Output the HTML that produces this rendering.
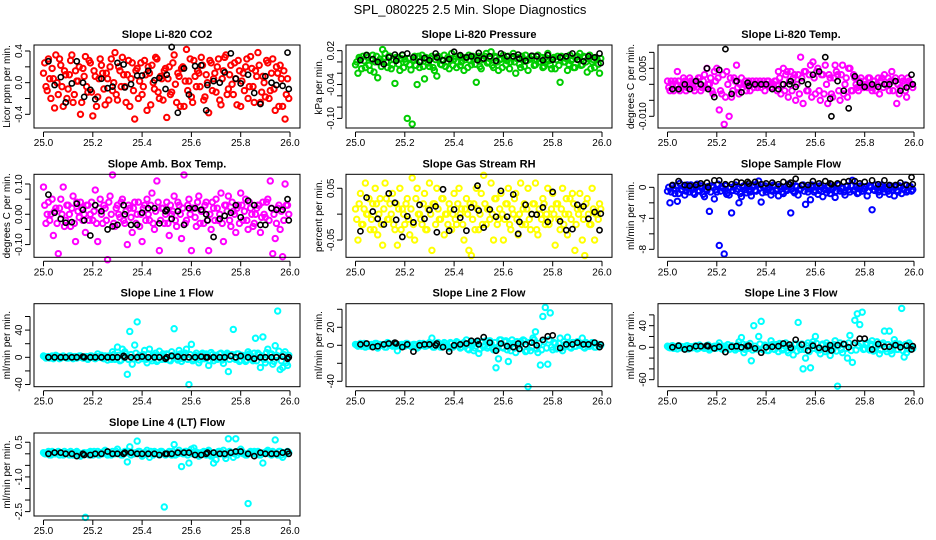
<!DOCTYPE html>
<html><head><meta charset="utf-8">
<style>
html,body{margin:0;padding:0;background:#fff;}
svg{display:block;font-family:"Liberation Sans",sans-serif;}
</style></head>
<body>
<svg id="chart" width="936" height="540" viewBox="0 0 936 540">
<text x="470" y="14" text-anchor="middle" font-size="13">SPL_080225  2.5 Min. Slope Diagnostics</text>
</svg>
<script>
const timesColored=[25.00,25.01,25.02,25.03,25.04,25.05,25.06,25.07,25.08,25.09,25.10,25.11,25.12,25.13,25.14,25.15,25.16,25.17,25.18,25.19,25.20,25.21,25.22,25.23,25.24,25.25,25.26,25.27,25.28,25.29,25.30,25.31,25.32,25.33,25.34,25.35,25.36,25.37,25.38,25.39,25.40,25.41,25.42,25.43,25.44,25.45,25.46,25.47,25.48,25.49,25.50,25.51,25.52,25.53,25.54,25.55,25.56,25.57,25.58,25.59,25.60,25.61,25.62,25.63,25.64,25.65,25.66,25.67,25.68,25.69,25.70,25.71,25.72,25.73,25.74,25.75,25.76,25.77,25.78,25.79,25.80,25.81,25.82,25.83,25.84,25.85,25.86,25.87,25.88,25.89,25.90,25.91,25.92,25.93,25.94,25.95,25.96,25.97,25.98,25.99];
const timesColored2=[25.005,25.015,25.025,25.035,25.045,25.055,25.065,25.075,25.085,25.095,25.105,25.115,25.125,25.135,25.145,25.155,25.165,25.175,25.185,25.195,25.205,25.215,25.225,25.235,25.245,25.255,25.265,25.275,25.285,25.295,25.305,25.315,25.325,25.335,25.345,25.355,25.365,25.375,25.385,25.395,25.405,25.415,25.425,25.435,25.445,25.455,25.465,25.475,25.485,25.495,25.505,25.515,25.525,25.535,25.545,25.555,25.565,25.575,25.585,25.595,25.605,25.615,25.625,25.635,25.645,25.655,25.665,25.675,25.685,25.695,25.705,25.715,25.725,25.735,25.745,25.755,25.765,25.775,25.785,25.795,25.805,25.815,25.825,25.835,25.845,25.855,25.865,25.875,25.885,25.895,25.905,25.915,25.925,25.935,25.945,25.955,25.965,25.975,25.985,25.995];
const timesBlack=[25.02,25.045,25.07,25.09,25.115,25.135,25.16,25.165,25.19,25.21,25.235,25.26,25.28,25.30,25.325,25.33,25.355,25.38,25.40,25.425,25.45,25.47,25.495,25.50,25.52,25.545,25.57,25.59,25.615,25.64,25.66,25.665,25.69,25.715,25.735,25.76,25.78,25.80,25.83,25.855,25.88,25.90,25.925,25.945,25.97,25.99,25.995];
const xTicks=[25.0,25.2,25.4,25.6,25.8,26.0];
const xTickLabels=["25.0","25.2","25.4","25.6","25.8","26.0"];

const co2Colored=[0.12,-0.05,0.30,-0.20,0.05,0.35,-0.15,0.22,-0.30,0.10,-0.08,0.28,-0.25,0.15,0.02,-0.40,0.18,0.33,-0.12,0.25,-0.42,0.08,-0.18,0.30,0.12,-0.28,0.05,0.20,-0.10,0.38,-0.22,0.15,0.32,-0.05,0.10,-0.30,0.25,-0.46,0.18,0.02,-0.15,0.28,-0.35,0.12,0.22,-0.08,0.30,-0.20,0.05,0.15,-0.44,0.20,-0.12,0.35,-0.25,0.08,0.18,-0.30,0.42,0.02,-0.18,0.28,-0.05,0.12,0.32,-0.22,0.10,-0.38,0.25,0.05,-0.12,0.30,-0.28,0.15,0.35,-0.08,0.22,-0.15,0.05,0.28,-0.30,0.12,0.20,-0.20,0.33,-0.05,0.15,0.38,-0.25,0.08,-0.18,0.25,-0.10,0.30,-0.35,0.12,0.22,-0.30,-0.46,0.05];
const co2Colored2=[0.25,-0.10,0.05,0.18,-0.32,0.00,0.30,-0.05,0.15,-0.20,0.10,0.35,-0.15,0.02,0.20,-0.25,0.08,-0.05,0.28,-0.12,0.15,-0.30,0.05,0.22,-0.08,0.12,-0.22,0.30,0.00,-0.15,0.20,-0.05,0.10,-0.25,0.28,0.05,-0.10,0.15,-0.20,0.25,-0.05,0.10,0.20,-0.28,0.00,0.32,-0.12,0.08,-0.22,0.18,0.05,-0.15,0.25,-0.02,0.12,-0.30,0.20,0.02,-0.10,0.30,-0.25,0.08,0.15,-0.05,0.22,-0.18,0.00,0.28,-0.10,0.12,0.20,-0.22,0.05,0.32,-0.15,0.10,-0.02,0.25,-0.28,0.15,0.02,-0.10,0.30,-0.05,0.18,-0.25,0.08,0.22,-0.12,0.00,0.28,-0.20,0.12,-0.08,0.20,-0.30,0.05,0.15,-0.15,-0.20];
const co2Black=[0.27,-0.03,0.07,-0.25,-0.01,0.27,0.0,-0.18,-0.09,-0.21,0.05,-0.07,-0.05,0.25,0.23,-0.06,-0.02,0.09,0.09,0.15,0.03,0.06,-0.08,0.10,0.45,-0.38,0.18,-0.15,0.21,0.22,-0.35,-0.03,0.02,0.00,0.13,0.37,0.05,-0.01,0.10,-0.13,-0.27,0.08,0.00,-0.03,-0.04,0.38,-0.08];
const co2Ticks=[-0.4,-0.2,0,0.2,0.4];
const co2TickLabels=["-0.4","","0.0","","0.4"];

const presColored=[-0.005,-0.02,0.005,0.01,-0.01,0.008,-0.015,0.012,0.0,-0.028,0.005,0.022,0.015,-0.01,0.01,-0.005,-0.038,0.008,-0.015,0.012,0.005,-0.10,-0.005,-0.11,0.01,-0.04,-0.01,0.012,-0.03,0.005,-0.008,0.01,-0.015,-0.025,0.008,-0.005,0.012,0.0,-0.012,0.015,0.005,-0.01,0.01,0.0,-0.015,0.008,0.012,-0.005,0.005,-0.036,0.01,-0.012,0.005,0.015,0.0,0.018,-0.01,0.008,-0.015,0.005,0.012,-0.005,0.01,0.0,0.015,-0.02,0.008,-0.01,0.005,0.012,-0.015,0.005,0.01,-0.005,0.012,0.0,-0.01,0.008,0.015,-0.005,0.005,-0.012,0.01,-0.036,0.008,0.0,-0.015,0.012,0.005,-0.01,0.01,0.015,-0.005,0.008,-0.018,0.012,0.0,-0.01,0.005,-0.02];
const presColored2=[0.0,0.008,-0.012,0.002,0.012,-0.006,0.004,-0.018,0.01,0.0,-0.008,0.006,0.0,0.01,-0.012,0.004,0.008,-0.004,0.006,-0.01,0.0,0.006,-0.014,0.004,-0.006,0.01,0.002,-0.008,0.008,-0.002,0.006,-0.01,0.004,0.01,-0.004,0.002,-0.008,0.008,0.004,-0.006,0.01,0.0,-0.006,0.008,0.004,-0.01,0.002,0.01,-0.004,0.006,-0.008,0.004,0.01,-0.002,0.006,-0.006,0.01,0.0,0.004,-0.01,0.006,0.002,-0.012,0.008,0.0,0.006,-0.004,0.01,-0.008,0.002,0.006,0.01,-0.006,0.004,0.0,0.008,-0.008,0.004,0.002,-0.012,0.008,0.004,-0.006,0.01,0.0,0.006,-0.004,0.002,-0.01,0.008,0.004,-0.006,0.01,0.0,0.006,-0.012,0.004,0.008,-0.004,0.006];
const presBlack=[0.003,0.012,0.005,0.0,-0.004,0.008,0.013,0.002,0.013,0.015,0.008,0.0,0.007,0.003,0.015,0.008,0.003,0.005,0.018,0.012,0.008,0.01,0.003,0.016,0.006,0.01,0.002,0.015,0.01,0.01,0.013,0.006,0.002,0.011,0.01,0.003,0.012,0.004,0.008,0.01,0.015,0.004,0.001,0.01,0.008,0.015,-0.002];
const presTicks=[0.02,0.0,-0.02,-0.04,-0.06,-0.08,-0.10];
const presTickLabels=["0.02","","","-0.04","","","-0.10"];

const tempColored=[0.001,-0.002,0.0,0.001,0.004,-0.002,0.0,0.001,-0.001,0.002,0.0,-0.002,0.001,0.002,-0.001,0.003,0.005,0.0,-0.002,0.004,0.005,-0.008,-0.003,-0.0125,0.004,-0.010,-0.004,0.002,0.006,-0.003,0.002,0.0,-0.002,0.001,0.0,-0.001,0.001,0.0,-0.001,0.001,0.0,0.001,-0.001,0.0,0.001,0.004,-0.003,0.005,0.003,-0.004,0.004,0.002,-0.005,0.003,0.0085,-0.006,0.004,-0.002,0.006,0.007,-0.003,0.005,-0.005,0.003,0.006,-0.006,0.002,-0.004,0.006,0.003,-0.005,0.006,0.0,-0.004,0.005,-0.002,0.002,-0.001,0.001,0.0,0.001,-0.001,0.002,-0.002,0.001,0.0,-0.003,0.002,0.003,0.0,-0.002,0.004,0.001,-0.006,-0.003,0.002,0.0,-0.004,0.001,0.0];
const tempColored2=[-0.001,0.001,-0.002,0.0,0.001,-0.001,0.002,-0.002,0.0,0.001,-0.001,0.0,0.002,-0.002,0.001,-0.001,0.0,0.002,-0.003,0.001,0.002,-0.002,0.003,-0.004,0.0,0.002,-0.002,0.001,-0.001,0.0,-0.001,0.001,0.0,-0.002,0.001,0.0,-0.001,0.001,0.0,-0.002,0.001,0.0,-0.001,0.001,-0.002,0.002,0.0,-0.002,0.004,0.001,-0.002,0.003,0.0,-0.003,0.002,0.004,-0.002,0.003,-0.004,0.002,0.004,-0.002,0.003,-0.003,0.0,0.003,-0.003,0.002,0.004,-0.002,0.003,-0.003,0.002,0.005,-0.002,0.003,0.0,-0.002,0.002,-0.001,0.0,0.002,-0.001,0.001,-0.002,0.002,0.001,-0.001,0.0,0.002,0.001,-0.002,0.002,0.0,-0.001,0.001,-0.002,0.002,0.0,-0.001];
const tempBlack=[-0.0015,-0.0015,0.0,-0.0015,0.001,0.0,0.005,-0.0015,-0.004,0.0045,0.011,-0.003,0.001,-0.0025,0.0005,-0.0005,0.0,0.0,0.0,-0.0015,-0.0015,0.0,0.0,0.001,-0.0008,0.001,0.0,0.003,0.004,0.0085,-0.0045,-0.01,0.001,-0.002,-0.0075,0.0025,0.0005,-0.0008,0.0,-0.0008,0.0,0.0,0.001,-0.002,-0.001,0.003,0.0];
const tempTicks=[0.010,0.005,0.0,-0.005,-0.010];
const tempTickLabels=["","0.005","","","-0.010"];

const ambColored=[0.09,-0.03,0.04,0.0,-0.07,0.02,-0.13,0.05,0.09,-0.02,0.03,-0.04,0.06,-0.09,0.01,0.04,-0.02,-0.06,0.03,0.0,-0.02,0.08,-0.09,0.05,-0.03,0.02,-0.15,0.06,0.13,-0.04,0.03,-0.01,0.05,-0.03,-0.10,0.02,-0.06,0.04,0.0,-0.04,-0.09,0.03,0.05,-0.02,0.07,-0.05,0.11,-0.12,0.02,-0.03,0.04,-0.07,0.0,0.06,-0.04,0.03,-0.08,0.13,-0.02,0.05,-0.12,0.02,-0.04,0.06,0.01,-0.03,0.04,-0.12,-0.05,0.02,0.05,-0.02,0.07,-0.09,0.03,0.06,-0.04,0.01,-0.06,0.03,0.07,-0.02,0.05,-0.05,0.02,-0.04,0.0,0.03,-0.06,0.04,-0.01,0.05,0.11,-0.13,-0.08,0.02,-0.05,-0.14,0.10,0.03];
const ambColored2=[0.03,0.0,-0.02,0.05,0.01,-0.03,0.02,0.0,-0.04,0.03,0.0,0.02,-0.03,0.04,-0.01,0.02,0.0,0.03,-0.02,0.04,0.01,-0.03,0.02,0.0,0.03,-0.02,0.04,0.0,-0.03,0.02,0.0,0.04,-0.02,0.01,0.03,-0.01,0.02,-0.03,0.04,0.0,0.02,-0.02,0.0,0.03,-0.03,0.01,0.04,-0.02,0.02,0.0,-0.03,0.03,0.01,-0.02,0.04,0.0,0.02,-0.03,0.03,0.0,0.02,-0.01,0.04,-0.03,0.01,0.03,-0.02,0.0,0.04,-0.02,0.02,0.0,-0.03,0.03,0.01,-0.02,0.04,0.0,0.02,-0.03,0.03,0.01,-0.02,0.04,0.0,-0.03,0.02,0.03,-0.01,0.0,0.04,-0.02,0.02,0.0,-0.03,0.03,0.01,-0.02,0.03,0.0];
const ambBlack=[0.065,0.005,-0.015,-0.028,-0.026,0.035,0.015,-0.02,-0.07,0.03,0.01,-0.05,-0.04,-0.035,0.03,0.0,-0.035,-0.035,0.005,0.02,0.02,-0.03,0.01,0.015,-0.015,0.01,-0.035,0.02,0.02,0.015,0.0,-0.02,-0.075,-0.015,-0.005,0.005,0.03,-0.01,0.045,0.03,-0.035,-0.035,0.02,0.015,0.015,0.05,-0.02];
const ambTicks=[0.10,0.05,0.0,-0.05,-0.10];
const ambTickLabels=["0.10","","0.00","","-0.10"];

const rhColored=[0.01,-0.05,0.04,-0.02,0.06,0.0,-0.03,0.02,0.05,-0.04,0.03,-0.06,0.06,-0.01,0.02,0.04,-0.03,-0.06,0.05,0.01,-0.02,0.03,-0.04,0.07,-0.05,0.05,0.0,-0.02,0.04,-0.03,0.06,-0.07,0.02,0.05,-0.01,0.03,-0.04,0.0,0.02,-0.03,0.04,-0.02,0.05,0.01,-0.05,0.03,-0.07,-0.08,0.02,0.05,-0.03,0.04,0.075,-0.02,0.01,0.06,-0.05,0.03,-0.01,0.04,-0.05,0.02,0.05,-0.03,0.0,0.04,-0.04,0.06,0.01,-0.02,0.05,-0.03,0.02,0.06,-0.04,0.0,0.03,-0.02,0.05,-0.01,0.04,-0.06,0.02,-0.03,0.05,0.0,-0.04,0.03,0.04,-0.07,0.01,0.04,-0.05,-0.08,0.03,-0.02,0.05,-0.05,0.0,0.02];
const rhColored2=[-0.01,0.02,-0.02,0.01,0.0,0.03,-0.01,-0.03,0.02,0.0,-0.02,0.01,0.03,-0.01,0.0,-0.02,0.02,0.01,-0.03,0.0,0.02,-0.01,0.01,-0.02,0.03,0.0,-0.01,0.02,-0.03,0.01,0.0,0.02,-0.02,0.01,-0.01,0.03,0.0,-0.02,0.01,0.0,-0.01,0.02,0.0,-0.02,0.01,0.0,0.02,-0.01,-0.03,0.01,0.0,-0.02,0.02,0.01,-0.01,0.0,0.03,-0.02,0.01,0.0,-0.01,0.02,-0.02,0.01,0.03,-0.01,0.0,-0.02,0.02,0.01,-0.01,0.0,0.02,-0.03,0.01,-0.01,0.02,0.0,-0.02,0.01,0.0,0.02,-0.01,0.01,-0.02,0.03,0.0,-0.01,0.02,-0.02,0.0,0.01,-0.01,0.02,0.0,-0.02,0.01,0.0,-0.01,0.01];
const rhBlack=[-0.033,0.032,0.005,-0.009,-0.02,0.04,0.022,-0.011,-0.044,-0.004,-0.016,0.018,-0.009,0.008,0.015,-0.035,0.048,-0.032,0.009,-0.007,-0.032,0.013,0.055,0.007,-0.026,0.009,-0.005,0.045,-0.005,0.038,-0.038,-0.015,0.018,0.0,-0.001,0.013,-0.015,0.043,-0.014,-0.031,-0.029,0.018,0.015,-0.009,0.004,-0.031,0.001];
const rhTicks=[0.05,0.0,-0.05];
const rhTickLabels=["0.05","","-0.05"];

const sampleColored=[-0.5,-2.0,0.2,-0.8,-1.8,0.5,-0.3,-1.0,0.3,-0.6,-0.2,-0.9,0.4,-0.5,-0.1,-1.2,-0.4,-3.1,0.2,-1.5,-0.6,-7.5,0.1,-8.6,-0.9,-1.0,-3.3,0.0,-0.5,-2.0,-1.2,0.2,-0.7,-0.3,-1.1,0.3,-0.5,0.8,-1.9,0.0,-0.6,-0.2,-1.0,0.3,-0.4,-1.1,0.1,-0.8,-0.3,0.4,-3.3,-0.5,0.2,-1.0,-0.2,0.3,-2.2,-0.6,-1.6,0.0,-0.4,-0.9,0.2,-1.2,-0.3,0.1,-0.8,-0.2,-1.3,0.4,-0.5,-0.1,-1.0,0.2,-0.6,0.9,-0.3,-0.8,0.1,-0.5,-0.2,-1.1,0.2,-2.9,-0.4,-0.1,-1.0,0.3,-0.6,-0.2,-0.9,0.0,-1.1,-0.4,0.2,-0.8,-0.3,-0.6,0.1,-0.5];
const sampleColored2=[0.0,-0.6,-0.2,0.2,-0.8,-0.3,0.1,-0.5,-0.1,0.3,-0.7,0.0,-0.4,0.2,-0.9,-0.2,0.1,-0.6,0.0,-0.3,0.4,-0.5,-0.1,0.2,-0.7,0.0,-0.4,0.3,-0.2,-0.8,0.1,-0.3,0.2,-0.6,0.0,-0.4,0.3,-0.1,-0.7,0.2,-0.3,0.0,-0.5,0.2,-0.2,0.1,-0.6,0.0,-0.4,0.3,-0.2,-0.7,0.1,-0.3,0.2,-0.5,0.0,-0.2,0.3,-0.6,0.1,-0.4,0.0,-0.2,-0.7,0.2,-0.3,0.0,-0.5,0.3,-0.1,-0.6,0.1,-0.3,0.2,-0.4,0.0,-0.7,0.2,-0.2,0.1,-0.5,0.0,-0.3,0.3,-0.6,0.1,-0.2,0.0,-0.5,0.2,-0.3,0.1,-0.6,0.0,-0.2,0.3,-0.4,0.1,-0.3];
const sampleBlack=[0.3,0.8,0.3,0.2,0.3,0.5,0.6,0.0,0.9,0.9,0.4,0.4,0.7,0.6,0.7,0.5,0.7,0.4,0.5,0.6,0.4,0.7,0.4,0.6,1.1,0.3,0.3,0.8,0.5,0.8,0.5,0.4,0.5,0.7,0.8,0.8,0.5,0.7,0.9,0.4,0.9,0.3,0.3,0.6,0.3,1.3,0.4];
const sampleTicks=[0,-2,-4,-6,-8];
const sampleTickLabels=["0","","-4","","-8"];

const line1Colored=[2,-1,1,0,-2,3,1,-1,2,0,-1,2,-2,1,0,2,-1,1,-3,2,0,-2,5,1,-1,2,-4,0,8,-3,15,-5,12,8,-25,38,-10,18,52,3,-2,10,-8,12,-5,3,-6,9,-3,2,5,-4,8,42,-2,10,-6,3,12,-40,19,-3,6,-8,4,-2,5,-12,7,-5,3,-1,6,-9,4,-21,2,41,-3,5,-4,2,-6,8,3,-5,28,6,-15,30,-8,12,4,-10,17,68,-18,-15,8,-12];
const line1Colored2=[1,0,-1,2,0,1,-2,1,0,-1,2,0,1,-1,2,0,-1,1,0,2,-1,1,0,3,-2,1,2,-3,4,-2,3,-4,2,5,-3,4,-2,6,-4,2,4,-3,5,-2,3,6,-4,2,5,-3,4,-5,3,2,-4,5,-2,6,-3,4,-5,3,2,-4,6,-2,3,-5,4,2,-3,5,-4,2,6,-3,4,-2,5,-6,3,2,-4,5,-3,6,-5,4,2,-3,7,-4,5,-6,3,9,-5,4,-8,3];
const line1Black=[0,0,0,0,0,0,1,0,0,0,0,0,0,0,2,0,0,0,1,0,0,0,-2,0,2,1,0,0,0,1,0,0,0,0,0,2,0,2,0,-2,0,0,0,0,1,-2,0];
const line1Ticks=[60,40,20,0,-20,-40];
const line1TickLabels=["","40","","0","","-40"];

const line2Colored=[1,-1,2,0,-2,1,0,-1,2,-3,1,0,-2,3,1,-1,2,-6,0,1,-1,2,0,-2,1,-3,2,0,-1,1,3,8,-2,0,1,-2,3,0,-3,2,-1,4,0,-2,3,6,-5,2,-6,4,-9,3,-2,5,-1,2,-5,-25,-15,6,-3,5,-18,-6,2,-8,-1,4,6,-7,-46,-6,8,15,-8,-22,32,42,-21,36,-5,2,-3,8,-6,1,9,-2,3,-1,4,0,8,-3,2,-1,3,-2,1,0];
const line2Colored2=[0,1,-1,2,0,-1,1,0,2,-1,0,1,-2,1,0,2,-1,0,1,-1,2,0,-1,1,0,-2,1,2,-1,0,2,-2,1,3,-2,0,2,-1,3,-2,1,3,-3,2,0,-4,3,1,-3,2,-4,4,0,-3,5,-2,3,-4,6,-2,4,-5,2,6,-3,4,-4,2,5,-6,3,-2,6,-4,2,-5,4,-3,6,-2,3,-4,2,-3,4,-1,2,-3,3,-1,2,0,-2,3,-1,1,2,-2,1,0];
const line2Black=[1,2,-2,-1,1,2,3,2,-2,1,-7,0,1,1,0,2,-2,-7,0,1,2,5,5,1,9,3,-6,2,-1,-2,2,-4,1,3,0,6,10,11,-3,1,1,3,1,1,3,-2,1];
const line2Ticks=[40,20,0,-20,-40];
const line2TickLabels=["","20","0","","-40"];

const line3Colored=[2,-1,3,0,-3,2,1,-2,3,0,-1,2,-3,4,1,-2,3,-5,0,2,-1,8,-3,2,0,-4,3,1,-2,10,18,-10,4,-2,-25,40,-3,20,48,-5,2,-6,12,-3,5,-8,4,-2,8,-10,3,-14,6,46,-4,-40,-20,8,-38,10,20,-5,-12,6,-8,3,-15,-5,12,-72,8,-10,5,-20,22,-28,50,62,42,65,-3,8,-5,12,-6,10,-12,5,30,-8,30,-12,14,-4,6,72,-18,-10,8,-3];
const line3Colored2=[0,2,-2,1,3,-1,0,2,-3,1,0,3,-2,1,-1,2,4,-3,1,-2,3,0,-4,2,5,-3,1,-5,4,-2,6,-4,3,7,-5,2,-3,6,-4,4,-6,3,5,-4,2,7,-5,3,-6,4,-3,5,-7,2,6,-4,3,-8,5,-2,7,-5,4,-3,8,-6,2,5,-7,3,-4,6,-2,8,-6,4,-5,3,7,-4,5,-3,6,-7,2,4,-5,8,-3,5,-6,3,7,-4,2,-6,5,-3,4,-2];
const line3Black=[0,3,-4,-2,2,2,3,2,-2,1,-9,1,2,0,2,3,-2,-10,0,1,2,7,5,-1,14,5,-6,3,-1,-3,4,-6,4,6,0,8,16,16,-4,6,1,1,4,0,3,-4,2];
const line3Ticks=[60,40,20,0,-20,-40,-60];
const line3TickLabels=["","40","","0","","","-60"];

const line4Colored=[0.05,0.0,0.1,-0.05,0.05,0.0,0.1,0.05,-0.05,0.0,0.05,0.1,-0.05,0.0,0.05,-0.1,0.0,-2.75,0.05,0.1,-0.05,0.0,0.1,0.05,0.0,0.15,-0.05,0.05,0.1,0.0,0.2,0.05,-0.05,0.1,-0.35,0.3,0.05,0.0,0.55,0.1,-0.1,0.05,0.15,-0.15,0.0,0.1,0.05,-0.05,0.1,-2.3,0.0,0.1,-0.05,0.4,0.05,0.15,-0.55,0.0,0.1,-0.4,0.2,0.25,0.0,-0.1,0.05,0.1,-0.05,0.15,-0.1,-0.4,-0.25,0.1,0.0,0.15,-0.2,0.65,0.05,-0.15,0.65,0.1,0.2,0.0,-0.05,-2.15,0.1,0.05,0.0,0.1,-0.05,-0.4,0.05,0.15,0.0,0.1,0.6,-0.05,0.1,-0.15,0.05,0.1];
const line4Colored2=[0.0,0.05,-0.05,0.1,0.0,0.05,-0.05,0.0,0.1,0.05,-0.05,0.0,0.05,0.1,-0.05,0.0,0.05,0.0,-0.05,0.05,0.1,0.0,-0.05,0.05,0.1,0.0,0.05,-0.05,0.0,0.1,0.05,-0.05,0.0,0.05,0.1,-0.05,0.0,0.05,0.1,0.0,-0.05,0.05,0.0,0.1,-0.05,0.05,0.0,0.1,0.05,-0.05,0.0,0.05,0.1,-0.05,0.0,0.05,0.0,0.1,-0.05,0.05,0.0,0.1,0.05,-0.05,0.0,0.05,0.1,0.0,-0.05,0.05,0.0,0.1,0.05,-0.05,0.0,0.1,0.05,0.0,-0.05,0.05,0.1,0.0,-0.05,0.05,0.0,0.1,0.05,-0.05,0.0,0.05,0.1,0.0,-0.05,0.05,0.0,0.1,-0.05,0.05,0.0,0.05];
const line4Black=[0.0,0.05,0.05,0.0,0.0,-0.1,0.0,-0.05,-0.05,0.0,0.0,0.1,0.0,0.0,0.0,0.05,0.05,0.0,0.0,0.0,0.0,-0.05,0.0,0.0,0.0,0.05,0.05,0.05,-0.05,-0.05,0.0,0.05,0.05,0.0,0.0,0.05,0.1,0.1,0.0,-0.1,0.05,0.0,0.0,0.0,0.05,0.1,0.0];
const line4Ticks=[0.5,0.0,-0.5,-1.0,-1.5,-2.0,-2.5];
const line4TickLabels=["0.5","","","-1.0","","","-2.5"];

const panels=[
 {key:"co2",title:"Slope Li-820 CO2",ylab:"Licor ppm per min.",col:0,row:0,ymin:-0.573,ymax:0.476,color:"#ff0000",c:co2Colored,c2:co2Colored2,b:co2Black,t:co2Ticks,tl:co2TickLabels},
 {key:"pressure",title:"Slope Li-820 Pressure",ylab:"kPa per min.",col:1,row:0,ymin:-0.117,ymax:0.030,color:"#00cd00",c:presColored,c2:presColored2,b:presBlack,t:presTicks,tl:presTickLabels},
 {key:"temp",title:"Slope Li-820 Temp.",ylab:"degrees C per min.",col:2,row:0,ymin:-0.01366,ymax:0.0123,color:"#ff00ff",c:tempColored,c2:tempColored2,b:tempBlack,t:tempTicks,tl:tempTickLabels},
 {key:"amb-box-temp",title:"Slope Amb. Box Temp.",ylab:"degrees C per min.",col:0,row:1,ymin:-0.142,ymax:0.132,color:"#ff00ff",c:ambColored,c2:ambColored2,b:ambBlack,t:ambTicks,tl:ambTickLabels},
 {key:"gas-stream-rh",title:"Slope Gas Stream RH",ylab:"percent per min.",col:1,row:1,ymin:-0.0834,ymax:0.077,color:"#ffff00",c:rhColored,c2:rhColored2,b:rhBlack,t:rhTicks,tl:rhTickLabels},
 {key:"sample-flow",title:"Slope Sample Flow",ylab:"ml/min per min.",col:2,row:1,ymin:-9.03,ymax:1.68,color:"#0000ff",c:sampleColored,c2:sampleColored2,b:sampleBlack,t:sampleTicks,tl:sampleTickLabels},
 {key:"line1-flow",title:"Slope Line 1 Flow",ylab:"ml/min per min.",col:0,row:2,ymin:-43.2,ymax:78.8,color:"#00ffff",c:line1Colored,c2:line1Colored2,b:line1Black,t:line1Ticks,tl:line1TickLabels},
 {key:"line2-flow",title:"Slope Line 2 Flow",ylab:"ml/min per min.",col:1,row:2,ymin:-46,ymax:46.2,color:"#00ffff",c:line2Colored,c2:line2Colored2,b:line2Black,t:line2Ticks,tl:line2TickLabels},
 {key:"line3-flow",title:"Slope Line 3 Flow",ylab:"ml/min per min.",col:2,row:2,ymin:-73,ymax:80.7,color:"#00ffff",c:line3Colored,c2:line3Colored2,b:line3Black,t:line3Ticks,tl:line3TickLabels},
 {key:"line4-flow",title:"Slope Line 4 (LT) Flow",ylab:"ml/min per min.",col:0,row:3,ymin:-2.69,ymax:0.90,color:"#00ffff",c:line4Colored,c2:line4Colored2,b:line4Black,t:line4Ticks,tl:line4TickLabels}
];

const NS="http://www.w3.org/2000/svg";
const svg=document.getElementById('chart');
function mk(tag,attrs,parent){const e=document.createElementNS(NS,tag);for(const k in attrs)e.setAttribute(k,attrs[k]);parent.appendChild(e);return e;}

panels.forEach(p=>{
  const L=34+p.col*312, R=L+266, T=[45,174.3,303.7,433][p.row], B=T+83;
  const x0=L+9.5, x1=R-10;
  const xs=v=>x0+(v-25)*(x1-x0);
  const ys=v=>B-(v-p.ymin)/(p.ymax-p.ymin)*(B-T);
  const g=mk('g',{},svg);
  
  
  const tt=mk('text',{x:(L+R)/2,y:T-7,'text-anchor':'middle','font-size':'11','font-weight':'bold'},g);
  tt.textContent=p.title;
  
  
  const pts=mk('g',{fill:'none'},g);
  
  
  p.c.forEach((v,i)=>{
    const c=mk('circle',{cx:xs(timesColored[i]),cy:ys(v),r:2.7,stroke:p.color,'stroke-width':2},pts);
    
    
  });
  p.c2.forEach((v,i)=>{
    const c=mk('circle',{cx:xs(timesColored2[i]),cy:ys(v),r:2.7,stroke:p.color,'stroke-width':2},pts);
    
    
  });
  p.b.forEach((v,i)=>{
    const c=mk('circle',{cx:xs(timesBlack[i]),cy:ys(v),r:2.6,stroke:'#000','stroke-width':1.6},pts);
    
    
  });
  const box=mk('rect',{x:L,y:T,width:R-L,height:B-T,fill:'none',stroke:'#000','stroke-width':1},g);
  
  
  const xa=mk('g',{},g);
  
  
  mk('line',{x1:xs(25),x2:xs(26),y1:B+4,y2:B+4,stroke:'#000'},xa);
  xTicks.forEach((v,i)=>{
    mk('line',{x1:xs(v),x2:xs(v),y1:B+4,y2:B+9,stroke:'#000'},xa);
    const t=mk('text',{x:xs(v),y:B+18,'text-anchor':'middle','font-size':'10'},xa);
    t.textContent=xTickLabels[i];
    
    
  });
  const ya=mk('g',{},g);
  
  
  mk('line',{x1:L-4,x2:L-4,y1:ys(p.t[0]),y2:ys(p.t[p.t.length-1]),stroke:'#000'},ya);
  p.t.forEach((v,i)=>{
    mk('line',{x1:L-9,x2:L-4,y1:ys(v),y2:ys(v),stroke:'#000'},ya);
    if(p.tl[i]){
      const t=mk('text',{x:L-12,y:ys(v),'text-anchor':'middle','font-size':'10',transform:`rotate(-90 ${L-12} ${ys(v)})`},ya);
      t.textContent=p.tl[i];
      
      
    }
  });
  const yl=mk('text',{x:L-24,y:(T+B)/2,'text-anchor':'middle','font-size':'10',transform:`rotate(-90 ${L-24} ${(T+B)/2})`},g);
  yl.textContent=p.ylab;
  
  
});
</script>
</body></html>
